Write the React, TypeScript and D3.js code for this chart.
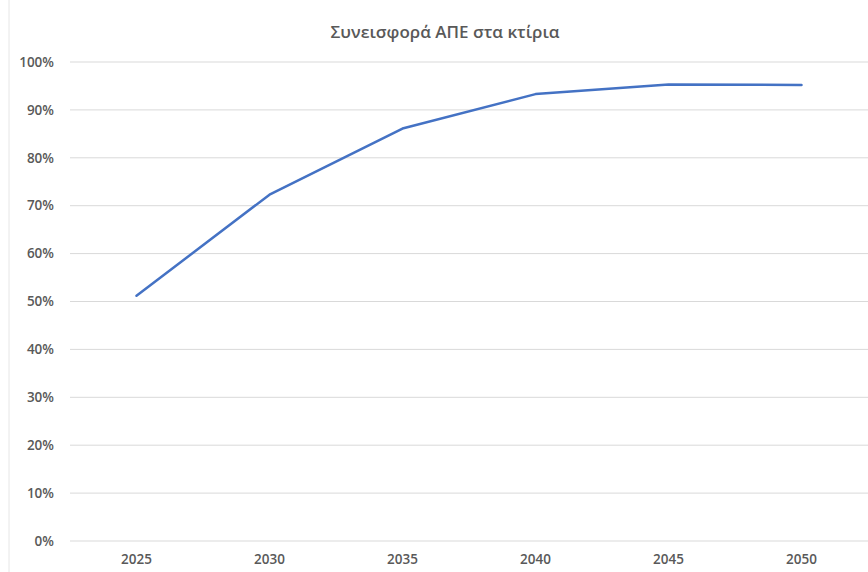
import React from "react";
import * as d3 from "d3";

const years = ["2025", "2030", "2035", "2040", "2045", "2050"];
const values = [0.512, 0.723, 0.861, 0.933, 0.953, 0.952];
const yTicks = [0, 0.1, 0.2, 0.3, 0.4, 0.5, 0.6, 0.7, 0.8, 0.9, 1.0];
const title = "Συνεισφορά ΑΠΕ στα κτίρια";

const W = 868;
const H = 572;
const margin = { left: 70, right: 0, top: 62, bottom: 31 };

export default function App() {
  const x = d3.scaleBand().domain(years).range([margin.left, W - margin.right]);
  const y = d3.scaleLinear().domain([0, 1]).range([H - margin.bottom, margin.top]);
  const line = d3
    .line<number>()
    .x((_, i) => (x(years[i]) as number) + x.bandwidth() / 2)
    .y((d) => y(d));
  const font = "'Open Sans', sans-serif";
  return (
    <svg
      width={W}
      height={H}
      style={{ position: "absolute", left: 0, top: 0, background: "#fff" }}
    >
      <rect x={0} y={0} width={W} height={H} fill="#fff" />
      <line x1={9} x2={9} y1={0} y2={H} stroke="#e6e6e6" strokeWidth={1} />
      <text
        x={445}
        y={38}
        textAnchor="middle"
        fontFamily={font}
        fontWeight={600}
        fontSize={17}
        fill="#595959"
      >
        {title}
      </text>
      {yTicks.map((t) => (
        <g key={t}>
          <line
            x1={margin.left}
            x2={W}
            y1={y(t)}
            y2={y(t)}
            stroke="#d9d9d9"
            strokeWidth={1}
          />
          <text
            x={54}
            y={y(t)}
            dy="0.35em"
            textAnchor="end"
            fontFamily={font}
            fontWeight={600}
            fontSize={13.5}
            fill="#595959"
          >
            {d3.format(".0%")(t)}
          </text>
        </g>
      ))}
      {years.map((yr) => (
        <text
          key={yr}
          x={(x(yr) as number) + x.bandwidth() / 2}
          y={H - 8}
          textAnchor="middle"
          fontFamily={font}
          fontWeight={600}
          fontSize={13.5}
          fill="#595959"
        >
          {yr}
        </text>
      ))}
      <path
        d={line(values) || ""}
        fill="none"
        stroke="#4472C4"
        strokeWidth={2.5}
        strokeLinejoin="round"
        strokeLinecap="round"
      />
    </svg>
  );
}
